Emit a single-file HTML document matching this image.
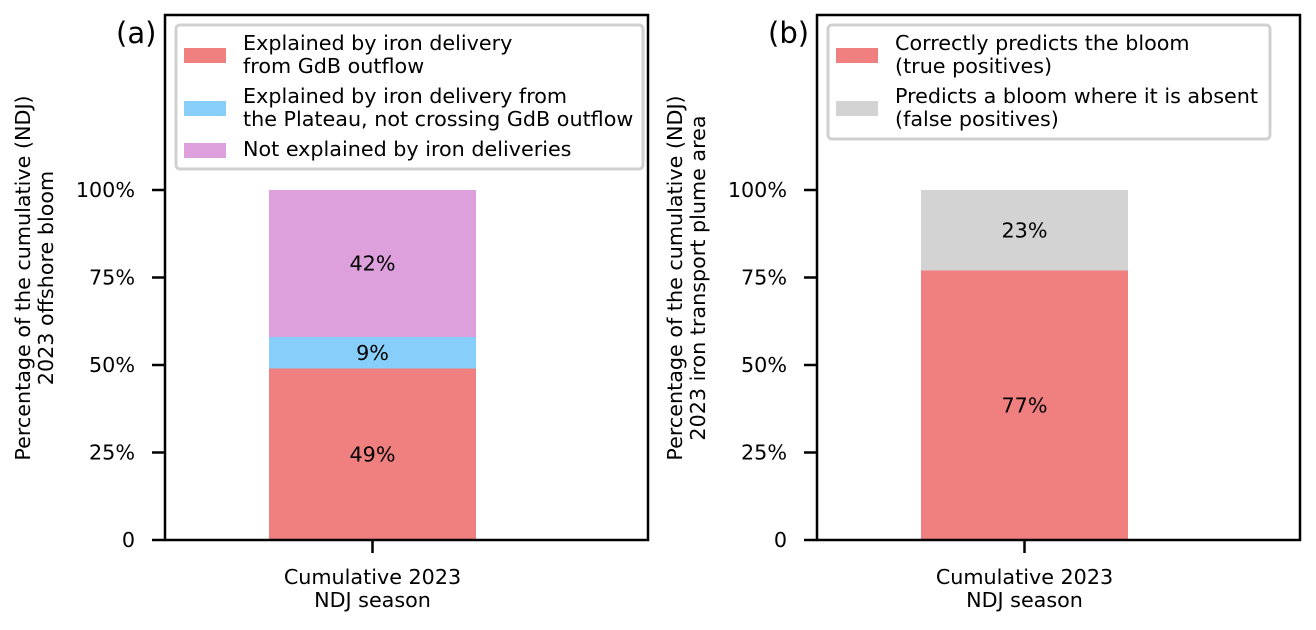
<!DOCTYPE html>
<html><head><meta charset="utf-8"><style>
body{margin:0;background:#fff;}
svg{font-family:"DejaVu Sans","Liberation Sans",sans-serif;}
</style></head><body>
<svg id="chart" width="1316" height="625" viewBox="0 0 1316 625"></svg>
<script>
const NS='http://www.w3.org/2000/svg';
const svg=document.getElementById('chart');
const tickValues=[0,25,50,75,100];
const tickLabels=['0','25%','50%','75%','100%'];
const aLabels=['Explained by iron delivery\nfrom GdB outflow','Explained by iron delivery from\nthe Plateau, not crossing GdB outflow','Not explained by iron deliveries'];
const aValues=[49,9,42];
const aColors=['#f08080','#87cefa','#dda0dd'];
const bLabels=['Correctly predicts the bloom\n(true positives)','Predicts a bloom where it is absent\n(false positives)'];
const bValues=[77,23];
const bColors=['#f08080','#d3d3d3'];
const FS='20.7';
function el(tag,attrs,parent,text){const e=document.createElementNS(NS,tag);for(const k in attrs)e.setAttribute(k,attrs[k]);if(text!==undefined)e.textContent=text;(parent||svg).appendChild(e);return e;}
function panel(x0,tag,values,colors,labels,title,legW,legH,name){
  const g=el('g',{},svg);
  
  
  const y0=540,ppp=3.5; const yScale=v=>y0-v*ppp;
  const cx=x0+207.5, bw=207;
  let cum=0;
  values.forEach((v,i)=>{
    const r=el('rect',{x:cx-bw/2,y:yScale(cum+v),width:bw,height:v*ppp,fill:colors[i]},g);
    
    
    const t=el('text',{x:cx,y:yScale(cum+v/2)+7,'text-anchor':'middle','font-size':FS},g,v+'%');
    
    
    cum+=v;
  });
  const ax=el('rect',{x:x0,y:15,width:483,height:525,fill:'none',stroke:'#000','stroke-width':2.5},g);
  
  
  tickValues.forEach((v,i)=>{
    el('line',{x1:x0-13,x2:x0,y1:yScale(v),y2:yScale(v),stroke:'#000','stroke-width':2.5},g);
    const t=el('text',{x:x0-30,y:yScale(v)+7,'text-anchor':'end','font-size':FS},g,tickLabels[i]);
    
    
  });
  el('line',{x1:cx,x2:cx,y1:540,y2:553,stroke:'#000','stroke-width':2.5},g);
  const xl=el('text',{'text-anchor':'middle','font-size':FS},g);
  
  
  el('tspan',{x:cx,y:584},xl,'Cumulative 2023');
  el('tspan',{x:cx,y:607},xl,'NDJ season');
  const yt=el('text',{'text-anchor':'middle','font-size':FS,transform:`translate(${x0-135},278) rotate(-90)`},g);
  
  
  el('tspan',{x:0,y:0},yt,title[0]);
  el('tspan',{x:0,y:23},yt,title[1]);
  const pl=el('text',{x:x0-49,y:43,'font-size':'29'},g,tag);
  
  
  const lg=el('g',{},g);
  
  
  el('rect',{x:x0+11,y:25,width:legW,height:legH,fill:'#fff',stroke:'#d0d0d0','stroke-width':3,rx:4},lg);
  let ty=50;
  labels.forEach((s,i)=>{
    const parts=s.split('\n');
    const top=parts.length===1?ty-13:ty-2;
    const p=el('rect',{x:x0+19,y:top,width:42,height:15,fill:colors[i]},lg);
    
    
    const t=el('text',{'font-size':FS},lg);
    
    
    parts.forEach((pp,j)=>el('tspan',{x:x0+78,y:ty+j*23},t,pp));
    ty+=parts.length*23+7;
  });
}
panel(165,'(a)',aValues,aColors,aLabels,['Percentage of the cumulative (NDJ)','2023 offshore bloom'],467,144,'panel-a');
panel(817,'(b)',bValues,bColors,bLabels,['Percentage of the cumulative (NDJ)','2023 iron transport plume area'],442,114,'panel-b');
</script>
</body></html>
